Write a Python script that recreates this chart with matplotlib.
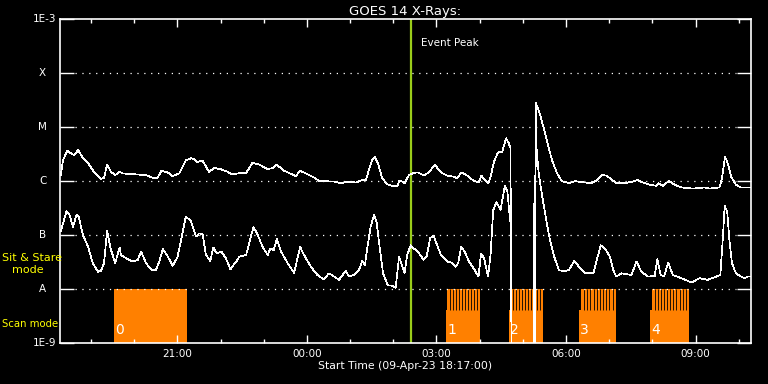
import numpy as np
import pandas as pd
import matplotlib
matplotlib.use("Agg")
import matplotlib.pyplot as plt
import matplotlib.dates as mdates
from matplotlib.ticker import NullLocator
from matplotlib.transforms import blended_transform_factory

start = pd.Timestamp("2023-04-09 18:17:00")

# long channel (1-8 A): hours after start, log10 flux
long_t = [0.02, 0.07, 0.17, 0.26, 0.32, 0.42, 0.53, 0.65, 0.80, 0.95, 1.02, 1.09, 1.18, 1.28, 1.38, 1.45,
          1.80, 1.98, 2.15, 2.26, 2.35, 2.49, 2.61, 2.76, 2.91, 3.03, 3.11, 3.18, 3.30, 3.45, 3.57, 3.72,
          3.88, 3.99, 4.11, 4.31, 4.46, 4.62, 4.81, 4.92, 5.02, 5.19, 5.46, 5.56, 5.69, 5.89, 6.00, 6.35,
          6.50, 6.69, 6.85, 7.00, 7.08, 7.15, 7.23, 7.29, 7.36, 7.46, 7.58, 7.69, 7.81, 7.86, 7.92, 7.98,
          8.08, 8.19, 8.28, 8.43, 8.55, 8.68, 8.82, 8.97, 9.12, 9.20, 9.29, 9.43, 9.58, 9.70, 9.76, 9.83,
          9.92, 9.97, 10.05, 10.14, 10.24, 10.33, 10.39, 10.43, 10.46, 10.99, 11.02, 11.12, 11.20, 11.28,
          11.39, 11.51, 11.62, 11.78, 11.93, 12.05, 12.31, 12.42, 12.54, 12.65, 12.77, 12.88, 13.08, 13.27,
          13.37, 13.50, 13.66, 13.81, 13.86, 13.96, 14.10, 14.23, 14.39, 14.66, 14.93, 15.04, 15.27, 15.32,
          15.40, 15.46, 15.54, 15.65, 15.77, 15.92, 16.00]
long_logf = [-5.89, -5.61, -5.44, -5.49, -5.52, -5.43, -5.57, -5.67, -5.85, -5.96, -5.94, -5.70, -5.83, -5.89, -5.83, -5.86,
             -5.88, -5.89, -5.94, -5.94, -5.81, -5.84, -5.91, -5.86, -5.62, -5.58, -5.59, -5.65, -5.62, -5.83, -5.76, -5.78,
             -5.83, -5.88, -5.86, -5.85, -5.66, -5.70, -5.78, -5.76, -5.70, -5.81, -5.91, -5.81, -5.86, -5.94, -6.00, -6.01,
             -6.04, -6.01, -6.03, -5.98, -5.99, -5.80, -5.61, -5.56, -5.67, -5.95, -6.06, -6.09, -6.09, -5.99, -6.01, -6.04,
             -5.89, -5.85, -5.84, -5.90, -5.83, -5.70, -5.84, -5.90, -5.92, -5.95, -5.84, -5.90, -6.00, -6.02, -5.90, -5.98,
             -6.04, -5.92, -5.64, -5.47, -5.46, -5.21, -5.30, -5.39, -10.0, -10.0, -4.56, -4.78, -5.02, -5.27,
             -5.61, -5.86, -6.00, -6.04, -6.00, -6.02, -6.04, -5.99, -5.89, -5.90, -5.97, -6.04, -6.04, -6.01,
             -5.98, -6.03, -6.07, -6.09, -6.04, -6.09, -6.00, -6.07, -6.12, -6.14, -6.12, -6.14, -6.12, -5.98,
             -5.55, -5.67, -5.92, -6.07, -6.12, -6.12, -6.12]

# short channel (0.5-4 A)
short_t = [0.02, 0.15, 0.22, 0.30, 0.38, 0.43, 0.53, 0.65, 0.76, 0.88, 0.95, 1.02, 1.09, 1.17, 1.28, 1.34,
           1.38, 1.41, 1.53, 1.68, 1.80, 1.88, 1.99, 2.11, 2.22, 2.30, 2.38, 2.49, 2.61, 2.72, 2.82, 2.91,
           3.02, 3.09, 3.15, 3.22, 3.30, 3.38, 3.48, 3.55, 3.63, 3.74, 3.84, 3.95, 4.03, 4.11, 4.15, 4.31,
           4.38, 4.48, 4.58, 4.69, 4.81, 4.87, 4.95, 5.02, 5.12, 5.27, 5.42, 5.56, 5.65, 5.81, 5.96, 6.10,
           6.23, 6.35, 6.46, 6.62, 6.69, 6.81, 6.92, 7.00, 7.06, 7.12, 7.19, 7.27, 7.33, 7.38, 7.48, 7.59,
           7.69, 7.77, 7.81, 7.85, 7.92, 7.98, 8.04, 8.12, 8.19, 8.28, 8.42, 8.49, 8.57, 8.65, 8.70, 8.82,
           8.97, 9.09, 9.16, 9.22, 9.29, 9.37, 9.47, 9.58, 9.69, 9.75, 9.82, 9.91, 9.97, 10.03, 10.11, 10.20,
           10.30, 10.36, 10.41, 10.45, 10.46, 10.96, 10.98, 11.03, 11.08, 11.16, 11.24, 11.32, 11.43, 11.55,
           11.66, 11.78, 11.91, 12.05, 12.16, 12.35, 12.42, 12.52, 12.62, 12.73, 12.81, 12.88, 13.00, 13.23,
           13.35, 13.46, 13.62, 13.77, 13.83, 13.91, 13.99, 14.08, 14.19, 14.39, 14.62, 14.81, 15.00, 15.19,
           15.29, 15.35, 15.39, 15.45, 15.50, 15.56, 15.65, 15.77, 15.85, 15.92, 16.00]
short_logf = [-6.93, -6.56, -6.63, -6.85, -6.63, -6.65, -7.00, -7.22, -7.52, -7.68, -7.66, -7.52, -6.92, -7.25, -7.52, -7.34,
              -7.23, -7.37, -7.43, -7.49, -7.46, -7.31, -7.52, -7.64, -7.65, -7.49, -7.26, -7.39, -7.57, -7.41, -7.03, -6.67,
              -6.72, -6.89, -7.03, -6.97, -6.98, -7.37, -7.48, -7.23, -7.34, -7.31, -7.43, -7.64, -7.54, -7.46, -7.40, -7.37,
              -7.15, -6.85, -7.00, -7.22, -7.37, -7.25, -7.28, -7.07, -7.31, -7.52, -7.70, -7.22, -7.37, -7.59, -7.74, -7.82,
              -7.71, -7.77, -7.83, -7.66, -7.77, -7.74, -7.65, -7.48, -7.56, -7.22, -6.86, -6.63, -6.75, -7.09, -7.71, -7.93,
              -7.94, -7.98, -7.71, -7.40, -7.56, -7.70, -7.37, -7.19, -7.25, -7.30, -7.46, -7.40, -7.06, -7.01, -7.12, -7.37,
              -7.49, -7.52, -7.59, -7.52, -7.22, -7.31, -7.49, -7.62, -7.77, -7.34, -7.43, -7.77, -7.37, -6.54, -6.39, -6.54,
              -6.09, -6.20, -6.63, -6.88, -10.0, -10.0, -6.50, -5.36, -5.83, -6.26, -6.63, -7.00, -7.37, -7.65,
              -7.67, -7.65, -7.48, -7.62, -7.70, -7.71, -7.49, -7.19, -7.25, -7.40, -7.65, -7.77, -7.71, -7.74,
              -7.49, -7.68, -7.77, -7.76, -7.45, -7.74, -7.77, -7.51, -7.74, -7.80, -7.88, -7.80, -7.83, -7.77,
              -7.74, -7.03, -6.46, -6.57, -7.09, -7.52, -7.71, -7.77, -7.80, -7.77, -7.77]

event_peak = 8.12  # hours after start

# scan mode blocks
scan_label = ["0", "1", "2", "3", "4"]
scan_start = [1.25, 8.93, 10.39, 12.02, 13.66]
scan_end = [2.95, 9.73, 11.19, 12.87, 14.56]
scan_rasters = [0, 11, 11, 11, 12]

class_labels = ["1E-9", "A", "B", "C", "M", "X", "1E-3"]
class_levels = [1e-9, 1e-8, 1e-7, 1e-6, 1e-5, 1e-4, 1e-3]


def to_time(h):
    return start + pd.to_timedelta(np.asarray(h), unit="h")


orange = "#ff8000"
fig = plt.figure(figsize=(7.68, 3.84), dpi=100, facecolor="black")
ax = fig.add_axes([60 / 768, 1 - 343 / 384, 691 / 768, 324 / 384], facecolor="black")
ax.set_yscale("log")
ax.set_ylim(1e-9, 1e-3)
ax.set_xlim(to_time(0), to_time(16))

box_top = 10 ** -8.39
for lab, t0, t1, n in zip(scan_label, scan_start, scan_end, scan_rasters):
    if n == 0:
        ax.fill_between(to_time([t0, t1]), 1e-9, 1e-8, color=orange, lw=0)
    else:
        ax.fill_between(to_time([t0, t1]), 1e-9, box_top, color=orange, lw=0)
        ax.fill_between(to_time([t0 + 0.04, t1]), box_top, 1e-8, color=orange, lw=0)
        w = (t1 - t0 - 0.04) / n
        seps = [t0 + 0.04 + i * w for i in range(1, n)]
        ax.vlines(to_time(seps), box_top, 1e-8, color="black", lw=0.6)
    ax.text(to_time(t0 + 0.03), 1.3e-9, lab, color="white", fontsize=10, ha="left", va="bottom")

# dotted class levels
for lev in class_levels[1:-1]:
    ax.axhline(lev, xmin=0.022, xmax=0.978, color="white", lw=0.9, ls=(0, (1, 4.5)))

ax.axvline(to_time(event_peak), color="#9acd1a", lw=1.6)
ax.text(to_time(event_peak + 0.25), 10 ** -3.45, "Event Peak", color="white", fontsize=7.5, va="center")

ax.plot(to_time(long_t), 10 ** np.array(long_logf), color="white", lw=0.5, antialiased=False)
ax.plot(to_time(short_t), 10 ** np.array(short_logf), color="white", lw=0.5, antialiased=False)

for s in ax.spines.values():
    s.set_color("white")
    s.set_linewidth(1.2)

ax.set_yticks(class_levels)
ax.set_yticklabels([])
ax.yaxis.set_minor_locator(NullLocator())
ax.tick_params(axis="y", direction="in", left=True, right=True, length=10, width=1, color="white")
ax.xaxis.set_major_locator(mdates.HourLocator(byhour=[0, 3, 6, 9, 12, 15, 18, 21]))
ax.xaxis.set_minor_locator(mdates.HourLocator())
ax.xaxis.set_major_formatter(mdates.DateFormatter("%H:%M"))
ax.tick_params(axis="x", which="major", direction="in", top=True, bottom=True, length=5.5, width=1,
               color="white", labelcolor="white", labelsize=7.5, pad=4)
ax.tick_params(axis="x", which="minor", direction="in", top=True, bottom=True, length=3, width=1, color="white")

tr = blended_transform_factory(ax.transAxes, ax.transData)
for lab, lev in zip(class_labels, class_levels):
    if lab.startswith("1E"):
        ax.text(-0.005, lev, lab, transform=tr, color="white", fontsize=7.5, ha="right", va="center")
    else:
        ax.text(-0.025, lev, lab, transform=tr, color="white", fontsize=7.5, ha="center", va="center")

fig.text(2 / 768, 1 - 258 / 384, "Sit & Stare", color="yellow", fontsize=8, ha="left", va="center")
fig.text(12 / 768, 1 - 270 / 384, "mode", color="yellow", fontsize=8, ha="left", va="center")
fig.text(2 / 768, 1 - 324 / 384, "Scan mode", color="yellow", fontsize=7.3, ha="left", va="center")

ax.set_title("GOES 14 X-Rays:", color="white", fontsize=9.5, pad=3)
ax.set_xlabel("Start Time (09-Apr-23 18:17:00)", color="white", fontsize=7.8, labelpad=2)

fig.savefig("out.png", dpi=100, facecolor="black")
